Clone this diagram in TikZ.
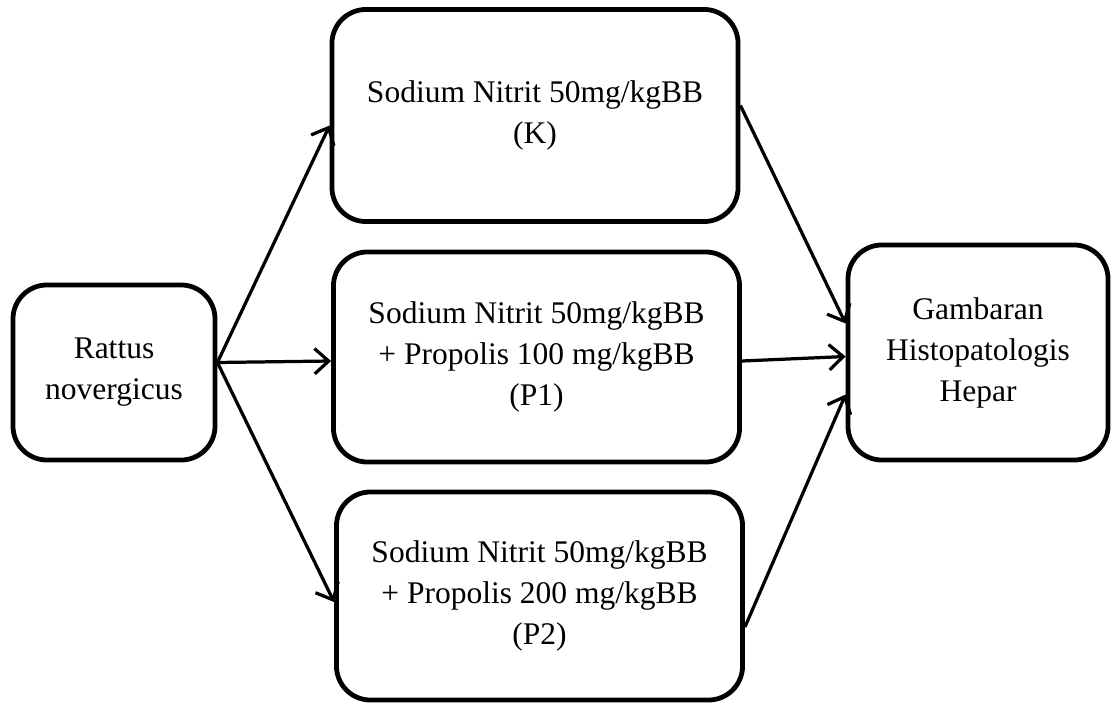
\documentclass[tikz,border=0pt]{standalone}
\usepackage{fontspec}
\setmainfont{Liberation Serif}
\usepackage{tikz}
\usetikzlibrary{arrows.meta}

\begin{document}
\begin{tikzpicture}[x=0.025cm, y=-0.025cm,
  every node/.style={draw, line width=3.4pt, rounded corners=0.85cm, align=center, inner sep=0pt,
    font=\fontsize{22.4pt}{29.2pt}\selectfont},
  grp/.style={minimum width=10.15cm, minimum height=5.25cm},
  arr/.style={line width=2.3pt, -{Straight Barb[length=10pt, width=18pt, line width=2.3pt]}}]
  \useasboundingbox (0,0) rectangle (1115,708);
  \node[minimum width=5.05cm, minimum height=4.375cm](rat) at (114,372.5){Rattus\\novergicus};
  \node[grp, minimum height=5.3cm](k) at (535,115.5){Sodium Nitrit 50mg/kgBB\\(K)};
  \node[grp](p1) at (536.5,357){Sodium Nitrit 50mg/kgBB\\+ Propolis 100 mg/kgBB\\(P1)};
  \node[grp, minimum height=5.2cm](p2) at (539.5,596){Sodium Nitrit 50mg/kgBB\\+ Propolis 200 mg/kgBB\\(P2)};
  \node[minimum width=6.5cm, minimum height=5.375cm](hep) at (978,352.5){Gambaran\\Histopatologis\\Hepar};
  \draw[arr] ([yshift=0.25cm]rat.east) -- ([yshift=-0.25cm]k.west);
  \draw[arr] ([yshift=0.25cm]rat.east) -- ([yshift=-0.1cm]p1.west);
  \draw[arr] ([yshift=0.25cm]rat.east) -- ([yshift=-0.15cm]p2.west);
  \draw[arr] ([yshift=0.25cm]k.east) -- ([yshift=0.725cm]hep.west);
  \draw[arr] ([yshift=-0.1cm]p1.east) -- ([yshift=-0.1cm]hep.west);
  \draw[arr] ([yshift=-0.775cm]p2.east) -- ([yshift=-1.05cm]hep.west);
\end{tikzpicture}
\end{document}
